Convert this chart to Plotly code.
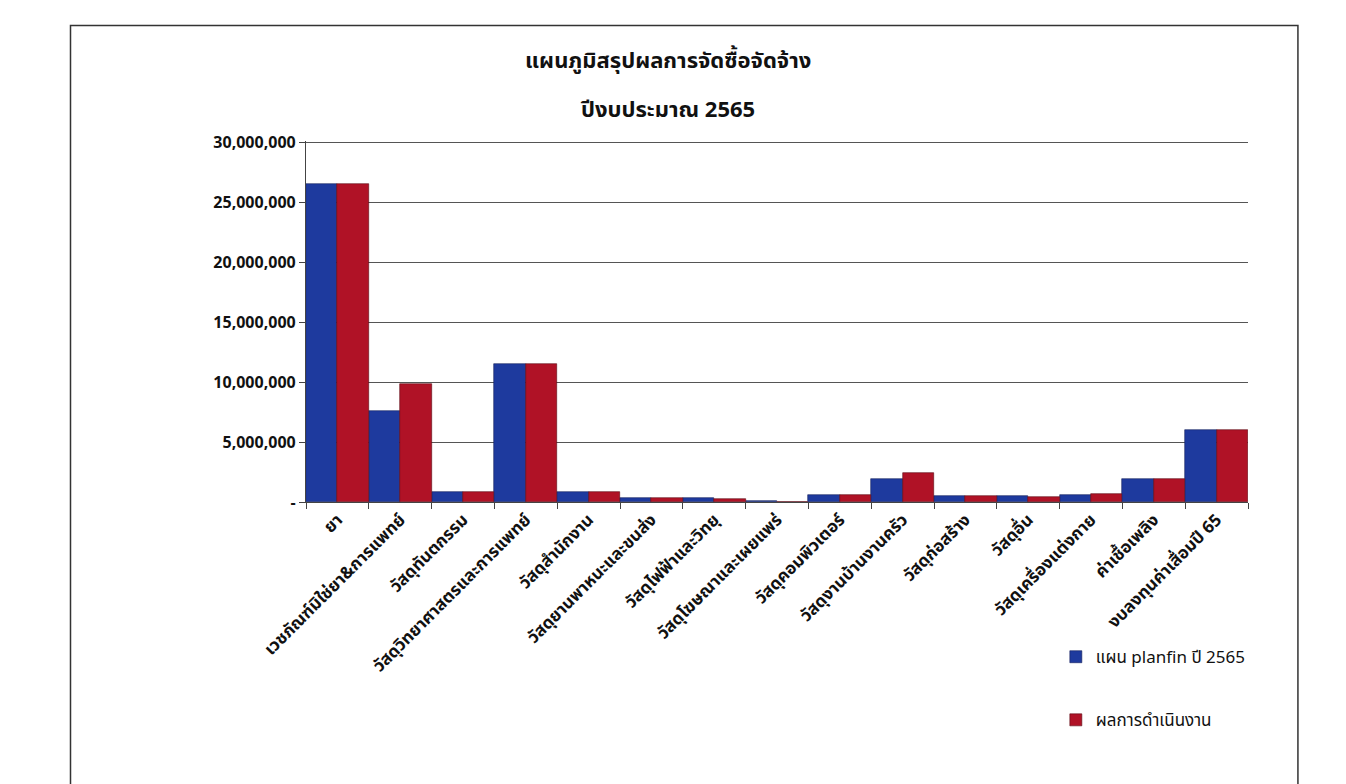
import plotly.graph_objects as go

categories = [
    "ยา",
    "เวชภัณฑ์มิใช่ยา&การแพทย์",
    "วัสดุทันตกรรม",
    "วัสดุวิทยาศาสตรและการแพทย์",
    "วัสดุสำนักงาน",
    "วัสดุยานพาหนะและขนส่ง",
    "วัสดุไฟฟ้าและวิทยุ",
    "วัสดุโฆษณาและเผยแพร่",
    "วัสดุคอมพิวเตอร์",
    "วัสดุงานบ้านงานครัว",
    "วัสดุก่อสร้าง",
    "วัสดุอื่น",
    "วัสดุเครื่องแต่งกาย",
    "ค่าเชื้อเพลิง",
    "งบลงทุนค่าเสื่อมปี 65",
]
plan_2565 = [26500000, 7600000, 800000, 11500000, 800000, 300000, 300000, 50000,
             600000, 1900000, 500000, 500000, 600000, 1900000, 6000000]
result = [26500000, 9800000, 800000, 11500000, 800000, 300000, 250000, 30000,
          600000, 2400000, 500000, 400000, 700000, 1900000, 6000000]
series_names = ["แผน planfin ปี 2565", "ผลการดำเนินงาน"]
title_lines = ["แผนภูมิสรุปผลการจัดซื้อจัดจ้าง", "ปีงบประมาณ 2565"]
y_tickvals = [0, 5000000, 10000000, 15000000, 20000000, 25000000, 30000000]
y_ticktext = ["-", "5,000,000", "10,000,000", "15,000,000", "20,000,000", "25,000,000", "30,000,000"]

FONT = "Noto Sans Thai, Noto Sans, Tahoma, sans-serif"

fig = go.Figure()
fig.add_trace(go.Bar(x=categories, y=plan_2565, name=series_names[0], legendgroup="a",
                     marker=dict(color="#1e3a9e", line=dict(color="#14205a", width=0.6))))
fig.add_trace(go.Bar(x=categories, y=result, name=series_names[1], legendgroup="b",
                     marker=dict(color="#b01226", line=dict(color="#5a0a14", width=0.6))))

fig.update_layout(
    width=1346, height=784,
    paper_bgcolor="white", plot_bgcolor="white",
    font=dict(family=FONT, color="#111"),
    barmode="group", bargap=0.0, bargroupgap=0.0,
    margin=dict(l=298, r=106, t=133, b=290),
    legend=dict(x=0.796, y=-0.38, xanchor="left", yanchor="top", xref="paper", yref="paper",
                orientation="v", tracegroupgap=38, font=dict(size=17, family=FONT),
                bgcolor="rgba(0,0,0,0)"),
    showlegend=True,
)
fig.add_annotation(text="<b>" + title_lines[0] + "</b>", xref="paper", yref="paper",
                   x=0.384, y=1.22, xanchor="center", yanchor="middle", showarrow=False,
                   font=dict(size=22, family=FONT, color="#111"))
fig.add_annotation(text="<b>" + title_lines[1] + "</b>", xref="paper", yref="paper",
                   x=0.384, y=1.085, xanchor="center", yanchor="middle", showarrow=False,
                   font=dict(size=22, family=FONT, color="#111"))

fig.update_xaxes(
    type="category", tickangle=-45, tickfont=dict(size=17, family=FONT, color="#111"),
    tickvals=categories, ticktext=["<b>" + c + "</b>" for c in categories],
    showline=True, linecolor="#444", linewidth=1.2, ticks="outside", tickson="boundaries",
    ticklen=6, tickcolor="#444", showgrid=False,
)
fig.update_yaxes(
    range=[0, 30100000], tickvals=y_tickvals, ticktext=["<b>" + t + "</b>" for t in y_ticktext],
    tickfont=dict(size=16, family=FONT, color="#111"),
    showgrid=True, gridcolor="#555", gridwidth=1.2,
    showline=True, linecolor="#444", linewidth=1.2, ticks="outside", ticklen=6, tickcolor="#444",
    zeroline=False,
)

# chart frame
fig.add_shape(type="rect", xref="paper", yref="paper",
              x0=-0.25, x1=1.053, y0=-0.80, y1=1.32,
              line=dict(color="#333", width=1.5), fillcolor="rgba(0,0,0,0)")

fig.write_html("out.html")
